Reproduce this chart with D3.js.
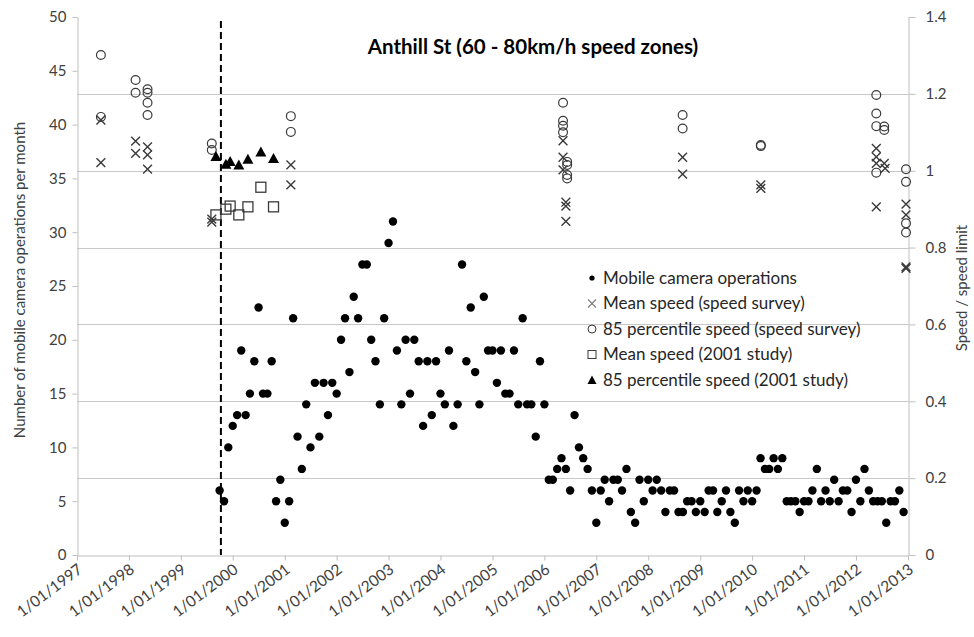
<!DOCTYPE html>
<html><head><meta charset="utf-8">
<script src="https://cdn.jsdelivr.net/npm/d3@7"></script>
<style>
body{margin:0;background:#fff;}
text{font-family:Lato,"Open Sans",sans-serif;}
</style>
</head><body>
<svg id="chart" width="974" height="637"></svg>
<script>
// ---------- DATA ----------
const tickYears = [1997,1998,1999,2000,2001,2002,2003,2004,2005,2006,2007,2008,2009,2010,2011,2012,2013];
const leftTicks = [0,5,10,15,20,25,30,35,40,45,50];
const rightTicks = [0,0.2,0.4,0.6,0.8,1.0,1.2,1.4];
const interventionDate = "1999-10-10";

// Mobile camera operations per month, first month = Oct 1999
const cameraStartMonth = "1999-10-01";
const cameraValues = [
  6,5,10,
  12,13,19,13,15,18,23,15,15,18,5,7,
  3,5,22,11,8,14,10,16,11,16,13,16,
  15,20,22,17,24,22,27,27,20,18,14,22,
  29,31,19,14,20,15,20,18,12,18,13,18,
  15,14,19,12,14,27,18,23,17,14,24,19,
  19,16,19,15,15,19,14,22,14,14,11,18,
  14,7,7,8,9,8,6,13,10,9,8,6,
  3,6,7,5,7,7,6,8,4,3,7,5,
  7,6,7,6,4,6,6,4,4,5,5,4,
  5,4,6,6,4,5,6,4,3,6,5,6,
  5,6,9,8,8,9,8,9,5,5,5,4,
  5,5,6,8,5,6,5,7,5,6,6,4,
  7,5,8,6,5,5,5,3,5,5,6,4
];

// Speed survey: mean speed / limit
const surveyMeanDates = [
  "1997-06-18","1997-06-18","1998-02-17","1998-02-17","1998-05-12","1998-05-12","1998-05-12",
  "1999-08-07","1999-08-07","2001-02-13","2001-02-13",
  "2006-05-12","2006-05-12","2006-05-12","2006-06-01","2006-06-01","2006-06-01",
  "2008-08-30","2008-08-30","2010-03-03","2010-03-03",
  "2012-05-23","2012-05-23","2012-05-23","2012-05-23","2012-07-18","2012-07-24",
  "2012-12-18","2012-12-18","2012-12-18","2012-12-18"
];
const surveyMeanValues = [
  1.132,1.021,1.077,1.045,1.062,1.041,1.004,
  0.874,0.866,1.015,0.963,
  1.078,1.035,1.002,0.918,0.908,0.868,
  1.035,0.991,0.963,0.954,
  1.058,1.036,1.019,0.906,1.019,1.006,
  0.913,0.885,0.750,0.746
];

// Speed survey: 85 percentile speed / limit
const survey85Dates = [
  "1997-06-18","1997-06-18","1998-02-17","1998-02-17","1998-05-12","1998-05-12","1998-05-12","1998-05-12",
  "1999-08-07","1999-08-07","2001-02-13","2001-02-13",
  "2006-05-12","2006-05-12","2006-05-12","2006-05-12","2006-06-10","2006-06-10","2006-06-10","2006-06-10",
  "2008-08-30","2008-08-30","2010-03-03","2010-03-03",
  "2012-05-23","2012-05-23","2012-05-23","2012-05-23","2012-07-18","2012-07-18",
  "2012-12-18","2012-12-18","2012-12-18","2012-12-18"
];
const survey85Values = [
  1.301,1.140,1.236,1.203,1.212,1.203,1.177,1.145,
  1.071,1.054,1.142,1.101,
  1.177,1.130,1.117,1.100,1.023,1.015,0.989,0.980,
  1.145,1.110,1.067,1.064,
  1.197,1.149,1.116,0.995,1.115,1.106,
  1.004,0.971,0.863,0.839
];

// 2001 study
const studyDates = ["1999-09-05","1999-11-14","1999-12-14","2000-02-13","2000-04-17","2000-07-17","2000-10-14"];
const studyMeanValues = [0.885,0.900,0.908,0.885,0.906,0.957,0.906];
const study85Values = [1.037,1.017,1.024,1.015,1.030,1.049,1.032];

const legendLabels = ["Mobile camera operations","Mean speed (speed survey)","85 percentile speed (speed survey)","Mean speed (2001 study)","85 percentile speed (2001 study)"];
const chartTitle = "Anthill St (60 - 80km/h speed zones)";
const leftTitle = "Number of mobile camera operations per month";
const rightTitle = "Speed / speed limit";

// ---------- CHART ----------
const svg = d3.select("#chart");
const m = {left:77, right:908, top:17, bottom:555};
const parse = d3.utcParse("%Y-%m-%d");

const x = d3.scaleUtc().domain([Date.UTC(1997,0,1), Date.UTC(2013,0,1)]).range([m.left, m.right]);
const yL = d3.scaleLinear().domain([0,50]).range([m.bottom, m.top]);
const yR = d3.scaleLinear().domain([0,1.4]).range([m.bottom, m.top]);

const axisColor = "#bfbfbf";
const labelColor = "#404040";

// gridlines (from secondary axis)
svg.append("g").selectAll("line").data(rightTicks.filter(d=>d>0 && d<1.4)).join("line")
  .attr("x1", m.left).attr("x2", m.right)
  .attr("y1", d=>Math.round(yR(d))+0.5).attr("y2", d=>Math.round(yR(d))+0.5)
  .attr("stroke", "#c8c8c8").attr("stroke-width",1);

function styleAxis(g){
  g.selectAll("path.domain").attr("stroke", axisColor);
  g.selectAll(".tick line").attr("stroke", axisColor);
  g.selectAll(".tick text").attr("fill", labelColor).style("font-size","15px").style("font-family","Lato");
}

// left axis
svg.append("g").attr("transform",`translate(${m.left+0.5},0)`)
  .call(d3.axisLeft(yL).tickValues(leftTicks).tickSize(5).tickSizeOuter(0).tickPadding(6))
  .call(styleAxis);

// right axis
svg.append("g").attr("transform",`translate(${m.right+0.5},0)`)
  .call(d3.axisRight(yR).tickValues(rightTicks).tickSize(7).tickSizeOuter(0).tickPadding(10)
    .tickFormat(d=> d===0 ? "0" : d3.format(".1~f")(d)))
  .call(styleAxis);

// bottom axis
const xAxisG = svg.append("g").attr("transform",`translate(0,${m.bottom+0.5})`)
  .call(d3.axisBottom(x).tickValues(tickYears.map(yv=>new Date(Date.UTC(yv,0,1)))).tickSize(5).tickSizeOuter(0)
    .tickFormat(d=>`1/01/${d.getUTCFullYear()}`))
  .call(styleAxis);
xAxisG.selectAll(".tick text")
  .style("font-size","15.5px")
  .attr("text-anchor","end").attr("dy",null).attr("y",null)
  .attr("transform","translate(6,16) rotate(-37)");

// intervention dashed line
svg.append("line")
  .attr("x1", x(parse(interventionDate))).attr("x2", x(parse(interventionDate)))
  .attr("y1", m.top+4).attr("y2", m.bottom)
  .attr("stroke","#000").attr("stroke-width",2).attr("stroke-dasharray","7,4");

// camera ops
const camStart = parse(cameraStartMonth);
const camData = cameraValues.map((v,i)=>({d:d3.utcMonth.offset(camStart,i), v}));
svg.append("g").selectAll("circle").data(camData).join("circle")
  .attr("cx", d=>x(d.d)).attr("cy", d=>yL(d.v)).attr("r",4.2).attr("fill","#000");

const markStroke = "#3a3a3a";
function xMark(g, s){
  g.append("path").attr("d",`M${-s},${-s}L${s},${s}M${-s},${s}L${s},${-s}`)
   .attr("stroke",markStroke).attr("stroke-width",1.4).attr("fill","none");
}
const meanData = surveyMeanValues.map((v,i)=>({d:parse(surveyMeanDates[i]), v}));
svg.append("g").selectAll("g").data(meanData).join("g")
  .attr("transform", d=>`translate(${x(d.d)},${yR(d.v)})`)
  .each(function(){ xMark(d3.select(this), 4.4); });

const p85Data = survey85Values.map((v,i)=>({d:parse(survey85Dates[i]), v}));
svg.append("g").selectAll("circle").data(p85Data).join("circle")
  .attr("cx", d=>x(d.d)).attr("cy", d=>yR(d.v)).attr("r",4.4)
  .attr("fill","none").attr("stroke",markStroke).attr("stroke-width",1.2);

const studyData = studyDates.map((dd,i)=>({d:parse(dd), mean:studyMeanValues[i], p85:study85Values[i]}));
svg.append("g").selectAll("rect").data(studyData).join("rect")
  .attr("x", d=>x(d.d)-5).attr("y", d=>yR(d.mean)-5).attr("width",10).attr("height",10)
  .attr("fill","none").attr("stroke",markStroke).attr("stroke-width",1.3);
svg.append("g").selectAll("path").data(studyData).join("path")
  .attr("transform", d=>`translate(${x(d.d)},${yR(d.p85)})`)
  .attr("d","M0,-5.5L5.5,4.5L-5.5,4.5Z").attr("fill","#000");

// legend
const lg = svg.append("g").attr("transform","translate(592,278)");
const rowH = 25.5;
legendLabels.forEach((t,i)=>{
  const row = lg.append("g").attr("transform",`translate(0,${i*rowH})`);
  if(i===0) row.append("circle").attr("r",2.6).attr("fill","#000");
  if(i===1) row.append("path").attr("d","M-4,-4L4,4M-4,4L4,-4").attr("stroke","#7f7f7f").attr("stroke-width",1.2);
  if(i===2) row.append("circle").attr("r",4).attr("fill","none").attr("stroke",markStroke).attr("stroke-width",1);
  if(i===3) row.append("rect").attr("x",-4).attr("y",-4).attr("width",8).attr("height",8).attr("fill","none").attr("stroke",markStroke).attr("stroke-width",1);
  if(i===4) row.append("path").attr("d","M0,-4.5L4.5,4L-4.5,4Z").attr("fill","#000");
  row.append("text").attr("x",11).attr("y",0).attr("dy","0.35em")
    .style("font-size","17px").attr("fill","#262626").text(t);
});

// title
svg.append("text").attr("x",533).attr("y",47).attr("dy","0.35em").attr("text-anchor","middle")
  .style("font-size","20.5px").style("font-weight","bold").attr("fill","#000").text(chartTitle);

// axis titles
svg.append("text").attr("transform","translate(20,280) rotate(-90)").attr("text-anchor","middle")
  .attr("dy","0.35em").style("font-size","15px").attr("fill",labelColor).text(leftTitle);
svg.append("text").attr("transform","translate(962,288) rotate(-90)").attr("text-anchor","middle")
  .attr("dy","0.35em").style("font-size","15px").attr("fill",labelColor).text(rightTitle);
</script>
</body></html>
